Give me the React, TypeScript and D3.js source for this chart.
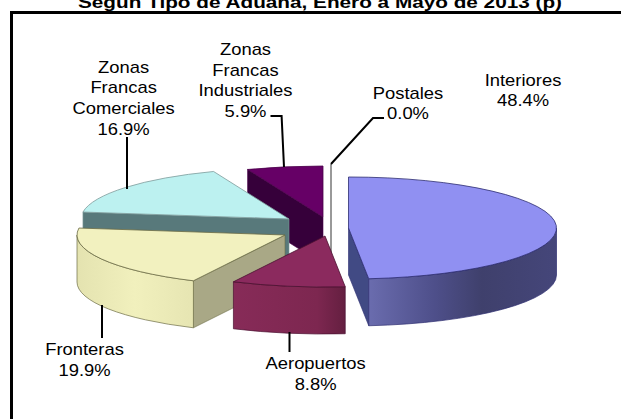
import React from "react";
import * as d3 from "d3";

const categories = ["Interiores", "Aeropuertos", "Fronteras", "Zonas Francas Comerciales", "Zonas Francas Industriales", "Postales"];
const shares = [48.4, 8.8, 19.9, 16.9, 5.9, 0.0];
const titleText = "Según Tipo de Aduana, Enero a Mayo de 2013 (p)";

const W = 621, H = 419;
const RX = 208, RY = 51, DEPTH = 47;

// exploded centre of each slice on the picture, by category index
const centres: [number, number][] = [[348.5, 228], [325, 236], [285, 235], [289, 219], [323, 217], [331, 215]];
const topFill = ["#9090f2", "#8b2a5e", "#f2f1bf", "#bcf1f0", "#660066", "#ffffff"];
const cutFill = ["#414a84", "#7a2450", "#a9a886", "#58797b", "#36003a", "#999999"];
const edge = ["#2c2c70", "#4a1030", "#6b6b45", "#7d9a9a", "#4a004a", "#8a8a8a"];
const wallStops = [
  [["0", "#6a6cae"], ["0.35", "#4e4f8a"], ["0.6", "#3f406c"], ["1", "#45467a"]],
  [["0", "#872b58"], ["0.75", "#7d2750"], ["1", "#641f40"]],
  [["0", "#e4e3b0"], ["0.5", "#f1f0bd"], ["1", "#e6e5b2"]],
  [["0", "#58797b"], ["1", "#58797b"]],
  [["0", "#36003a"], ["1", "#36003a"]],
  [["0", "#999"], ["1", "#999"]],
];

const labelLines = [
  { lines: ["Interiores", "48.4%"], x: 523, y: 85.7 },
  { lines: ["Aeropuertos", "8.8%"], x: 315.6, y: 369 },
  { lines: ["Fronteras", "19.9%"], x: 84.5, y: 355 },
  { lines: ["Zonas", "Francas", "Comerciales", "16.9%"], x: 123.6, y: 72.7 },
  { lines: ["Zonas", "Francas", "Industriales", "5.9%"], x: 245.5, y: 55 },
  { lines: ["Postales", "0.0%"], x: 408, y: 98.5 },
];
const leaders: [number, number][][] = [
  [[289.5, 332], [289.5, 352]],
  [[102, 305], [102, 338]],
  [[127, 137], [127, 189]],
  [[270.5, 116], [281.6, 116], [284, 167]],
  [[384, 118], [373, 118], [331, 164]],
];

const pieAngles = d3.pie<number>().sort(null).value((d) => d)(shares);
const lineGen = d3.line();

function pt(c: [number, number], a: number, dy = 0): [number, number] {
  return [c[0] + RX * Math.sin(a), c[1] - RY * Math.cos(a) + dy];
}
function arcTo(c: [number, number], a: number, dy = 0, sweep = 1, large = 0) {
  const p = pt(c, a, dy);
  return `A${RX},${RY} 0 ${large} ${sweep} ${p[0]},${p[1]}`;
}

export default function App() {
  const order = [4, 5, 3, 2, 1, 0];
  return (
    <svg width={W} height={H} viewBox={`0 0 ${W} ${H}`} style={{ position: "absolute", left: 0, top: 0, background: "#fff", fontFamily: "'Liberation Sans', Arial, sans-serif" }}>
      <defs>
        {pieAngles.map((s, i) => {
          const c = centres[i];
          const a0 = Math.max(s.startAngle, Math.PI / 2);
          const a1 = Math.min(s.endAngle, (3 * Math.PI) / 2);
          const xs = [pt(c, a0)[0], pt(c, a1)[0]];
          return (
            <linearGradient key={i} id={`w${i}`} gradientUnits="userSpaceOnUse" x1={Math.min(...xs)} x2={Math.max(...xs)} y1={0} y2={0}>
              {wallStops[i].map(([o, col]) => <stop key={o} offset={o} stopColor={col} />)}
            </linearGradient>
          );
        })}
        <linearGradient id="w0b" gradientUnits="userSpaceOnUse" x1={369} x2={557} y1={0} y2={0}>
          {wallStops[0].map(([o, col]) => <stop key={o} offset={o} stopColor={col} />)}
        </linearGradient>
      </defs>

      <text x={320} y={8} textAnchor="middle" fontWeight="bold" fontSize={16} textLength={484} lengthAdjust="spacingAndGlyphs" fill="#000">{titleText}</text>
      <path d={`M11.5,${H + 5} V12.5 H${W + 5}`} fill="none" stroke="#000" strokeWidth={3} />

      {order.map((i) => {
        const s = pieAngles[i];
        const c = centres[i];
        const a0 = s.startAngle;
        const a1 = i === 5 ? 2 * Math.PI : s.endAngle;
        const aStart = i === 5 ? 2 * Math.PI : a0;
        const faces: React.ReactNode[] = [];
        const face = (a: number, k: string) => {
          const p = pt(c, a);
          return (
            <path key={k} d={`M${c[0]},${c[1]} L${p[0]},${p[1]} L${p[0]},${p[1] + DEPTH} L${c[0]},${c[1] + DEPTH} Z`} fill={cutFill[i]} stroke={edge[i]} strokeWidth={0.6} />
          );
        };
        if (Math.sin(aStart) < -1e-3) faces.push(face(aStart, "s"));
        if (Math.sin(a1) > 1e-3) faces.push(face(a1, "e"));
        const w0 = Math.max(aStart, Math.PI / 2);
        const w1 = Math.min(a1, (3 * Math.PI) / 2);
        const hasWall = w1 > w0;
        const pw0 = pt(c, w0), pw1 = pt(c, w1);
        const wall = `M${pw0[0]},${pw0[1]} ${arcTo(c, w1)} L${pw1[0]},${pw1[1] + DEPTH} A${RX},${RY} 0 0 0 ${pw0[0]},${pw0[1] + DEPTH} Z`;
        const p0 = pt(c, aStart);
        const large = a1 - aStart > Math.PI ? 1 : 0;
        const top = `M${c[0]},${c[1]} L${p0[0]},${p0[1]} ${arcTo(c, a1, 0, 1, large)} Z`;
        return (
          <g key={i}>
            {i === 5 && <path d={lineGen([pt(c, 0), [c[0], c[1] + DEPTH]]) || ""} stroke={cutFill[5]} strokeWidth={2} fill="none" />}
            {faces}
            {hasWall && i !== 5 && <path d={wall} fill={`url(#w${i === 0 ? "0b" : i})`} stroke={edge[i]} strokeWidth={0.7} />}
            {i !== 5 && <path d={top} fill={topFill[i]} stroke={edge[i]} strokeWidth={0.8} strokeLinejoin="round" />}
          </g>
        );
      })}

      {leaders.map((l, i) => (
        <path key={i} d={lineGen(l) || ""} fill="none" stroke="#000" strokeWidth={2} />
      ))}

      {labelLines.map((lab, i) =>
        lab.lines.map((t, j) => (
          <text key={`${i}-${j}`} transform={`translate(${lab.x},${lab.y + j * 20.6}) scale(1.15,1)`} textAnchor="middle" fontSize={16} fill="#000">{t}</text>
        ))
      )}
    </svg>
  );
}
